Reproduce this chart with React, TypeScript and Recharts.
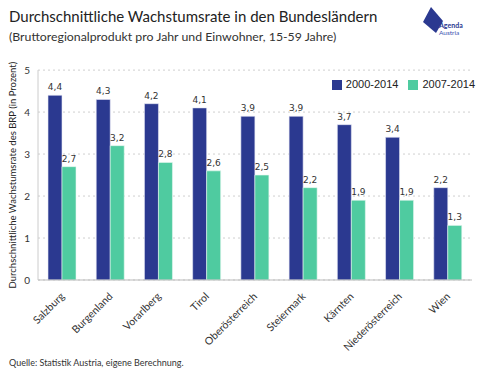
import { Bar, BarChart, CartesianGrid, LabelList, Legend, XAxis, YAxis } from "recharts";

const regions = [
  "Salzburg",
  "Burgenland",
  "Vorarlberg",
  "Tirol",
  "Oberösterreich",
  "Steiermark",
  "Kärnten",
  "Niederösterreich",
  "Wien"
];
const growth2000 = [4.4, 4.3, 4.2, 4.1, 3.9, 3.9, 3.7, 3.4, 2.2];
const growth2007 = [2.7, 3.2, 2.8, 2.6, 2.5, 2.2, 1.9, 1.9, 1.3];
const yTicks = [0, 1, 2, 3, 4, 5];

const rows = regions.map((name, i) => ({ name, a: growth2000[i], b: growth2007[i] }));

const FONT = "Lato, 'Open Sans', sans-serif";
const DARK = "#2b3990";
const GREEN = "#4fcba0";

function fmt(value: unknown) {
  return Number(value).toFixed(1).replace(".", ",");
}

function RotatedTick(props: any) {
  const { x, y, payload } = props;
  return (
    <text
      x={x + 3}
      y={y + 9}
      transform={`rotate(-45, ${x + 3}, ${y + 9})`}
      textAnchor="end"
      fontSize={10.5}
      fontFamily={FONT}
      fill="#333"
    >
      {payload.value}
    </text>
  );
}

export default function App() {
  return (
    <div style={{ position: "absolute", left: 0, top: 0, width: 491, height: 381, background: "#fff", fontFamily: FONT }}>
      <div style={{ position: "absolute", left: 9, top: 7, fontSize: 15, color: "#222" }}>
        Durchschnittliche Wachstumsrate in den Bundesländern
      </div>
      <div style={{ position: "absolute", left: 9, top: 29, fontSize: 12.3, color: "#333" }}>
        (Bruttoregionalprodukt pro Jahr und Einwohner, 15-59 Jahre)
      </div>
      <svg style={{ position: "absolute", left: 418, top: 4 }} width={60} height={36}>
        <polygon points="13,3 25,17 18,29 5,18" fill={DARK} />
        <text x={21} y={24} fontSize={7} fontWeight={700} fill={DARK} fontFamily={FONT}>Agenda</text>
        <text x={21} y={31} fontSize={6.5} fill="#3a4fb0" fontFamily={FONT}>Austria</text>
      </svg>

      <BarChart
        width={491}
        height={381}
        data={rows}
        margin={{ top: 58, right: 19, bottom: 21, left: 14 }}
        barGap={0}
      >
        <CartesianGrid vertical={false} stroke="#cfcfcf" strokeDasharray="2 3" />
        <XAxis
          dataKey="name"
          interval={0}
          tick={<RotatedTick />}
          tickLine={false}
          axisLine={{ stroke: "#bbb" }}
          height={80}
        />
        <YAxis
          domain={[0, 5]}
          ticks={yTicks}
          width={24}
          tick={{ fontSize: 10, fill: "#333", fontFamily: FONT }}
          tickLine={false}
          axisLine={{ stroke: "#ccc" }}
          label={{
            value: "Durchschnittliche Wachstumsrate des BRP (in Prozent)",
            angle: -90,
            position: "insideLeft",
            offset: -1,
            style: { textAnchor: "middle", fontSize: 9.5, fill: "#222", fontFamily: FONT }
          }}
        />
        <Legend
          verticalAlign="top"
          align="right"
          iconType="square"
          iconSize={10}
          wrapperStyle={{ top: 78, right: 6, width: "auto", fontSize: 11, fontFamily: "'Liberation Sans', Arial, sans-serif" }}
          formatter={(v) => <span style={{ color: "#222" }}>{v}</span>}
        />
        <Bar dataKey="a" name="2000-2014" fill={DARK} stroke="#e6e8f5" strokeWidth={0.6} barSize={14} isAnimationActive={false}>
          <LabelList dataKey="a" position="top" formatter={fmt} style={{ fontSize: 9, fill: "#333", fontFamily: "'DejaVu Sans', sans-serif" }} />
        </Bar>
        <Bar dataKey="b" name="2007-2014" fill={GREEN} stroke="#e6f7f0" strokeWidth={0.6} barSize={14} isAnimationActive={false}>
          <LabelList dataKey="b" position="top" formatter={fmt} style={{ fontSize: 9, fill: "#333", fontFamily: "'DejaVu Sans', sans-serif" }} />
        </Bar>
      </BarChart>

      <div style={{ position: "absolute", left: 9, top: 357, fontSize: 9, color: "#333" }}>
        Quelle: Statistik Austria, eigene Berechnung.
      </div>
    </div>
  );
}
